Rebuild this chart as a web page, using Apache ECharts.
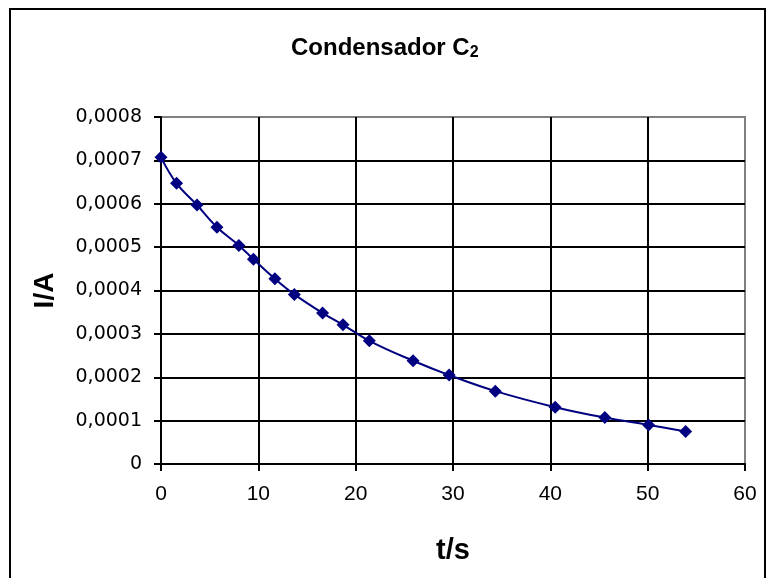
<!DOCTYPE html>
<html>
<head>
<meta charset="utf-8">
<title>Condensador C2</title>
<script src="https://cdn.jsdelivr.net/npm/echarts@6/dist/echarts.min.js"></script>
<style>
  html, body { margin: 0; padding: 0; background: #fff; }
  #chart { width: 770px; height: 578px; }
</style>
</head>
<body>
<div id="chart"></div>
<script>
// tempo (s) e corrente (A)
const tempo = [0, 1.6, 3.7, 5.75, 8.0, 9.5, 11.7, 13.7, 16.6, 18.7, 21.4, 25.9, 29.6, 34.35, 40.5, 45.6, 50.1, 53.9]
const corrente = [0.000707, 0.000647, 0.000597, 0.000546, 0.000504, 0.000472, 0.000427, 0.000391,
  0.000348, 0.000321, 0.000284, 0.000238, 0.000205, 0.000168, 0.000131, 0.000107, 0.000090, 0.000075]
const xTicks = [0, 10, 20, 30, 40, 50, 60]
const yTicks = [0, 0.0001, 0.0002, 0.0003, 0.0004, 0.0005, 0.0006, 0.0007, 0.0008]

const fontFamily = '"Liberation Sans", Arial, sans-serif'
const lineColor = '#000080'

const chart = echarts.init(document.getElementById('chart'))
chart.setOption({
  backgroundColor: '#fff',
  animation: false,
  graphic: [{
    type: 'rect',
    shape: { x: 10, y: 9, width: 755, height: 600 },
    style: { fill: 'none', stroke: '#000', lineWidth: 2 },
    silent: true
  }],
  title: {
    text: 'Condensador C{sub|2}',
    left: 286,
    top: 30,
    textStyle: {
      fontFamily: fontFamily,
      fontSize: 24,
      fontWeight: 'bold',
      color: '#000',
      rich: {
        sub: { fontFamily: fontFamily, fontSize: 16, fontWeight: 'bold', verticalAlign: 'bottom', padding: [10, 0, 0, 0], color: '#000' }
      }
    }
  },
  grid: {
    show: true,
    left: 161,
    right: 25,
    top: 117,
    bottom: 114,
    borderColor: '#808080',
    borderWidth: 2,
    containLabel: false
  },
  xAxis: {
    type: 'value',
    min: xTicks[0],
    max: xTicks[xTicks.length - 1],
    interval: 10,
    name: 't/s',
    nameLocation: 'middle',
    nameGap: 72,
    nameTextStyle: { fontFamily: fontFamily, fontSize: 29, fontWeight: 'bold', color: '#000' },
    axisLine: { show: true, lineStyle: { color: '#000', width: 2 } },
    axisTick: { show: true, inside: false, length: 7, lineStyle: { color: '#000', width: 2 } },
    axisLabel: { fontFamily: fontFamily, fontSize: 21, color: '#000', margin: 20 },
    splitLine: { show: true, showMaxLine: false, lineStyle: { color: '#000', width: 2 } }
  },
  yAxis: {
    type: 'value',
    min: yTicks[0],
    max: yTicks[yTicks.length - 1],
    interval: 0.0001,
    name: 'I/A',
    nameLocation: 'middle',
    nameGap: 102,
    nameTextStyle: { fontFamily: fontFamily, fontSize: 28, fontWeight: 'bold', color: '#000' },
    axisLine: { show: true, lineStyle: { color: '#000', width: 2 } },
    axisTick: { show: true, inside: false, length: 7, lineStyle: { color: '#000', width: 2 } },
    axisLabel: {
      fontFamily: '"DejaVu Sans", sans-serif',
      fontSize: 19,
      color: '#000',
      margin: 19,
      formatter: function (v) {
        if (v === 0) return '0'
        return v.toFixed(4).replace('.', ',')
      }
    },
    splitLine: { show: true, showMaxLine: false, lineStyle: { color: '#000', width: 2 } }
  },
  series: [{
    type: 'line',
    data: tempo.map((t, i) => [t, corrente[i]]),
    smooth: 0.4,
    symbol: 'diamond',
    symbolSize: 13,
    lineStyle: { color: lineColor, width: 2 },
    itemStyle: { color: lineColor }
  }]
})
</script>
</body>
</html>
